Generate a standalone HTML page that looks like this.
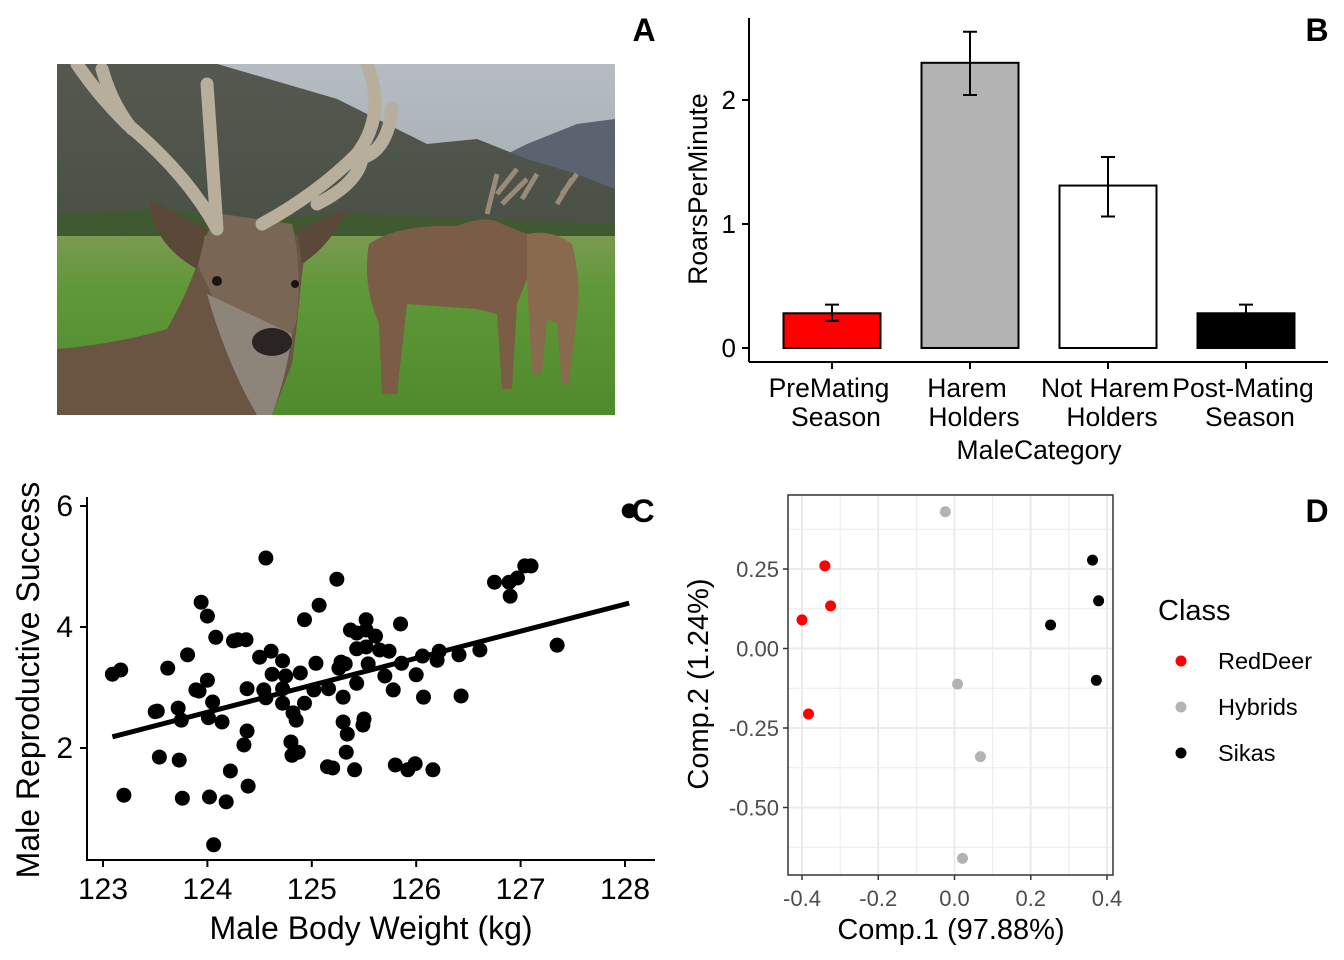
<!DOCTYPE html>
<html><head><meta charset="utf-8"><style>
html,body{margin:0;padding:0;background:#fff;}
svg{display:block;font-family:"Liberation Sans",Arial,sans-serif;}
</style></head><body>
<svg id="fig" width="1344" height="960" viewBox="0 0 1344 960" xmlns="http://www.w3.org/2000/svg">
<defs>
<linearGradient id="sky" x1="0" y1="0" x2="0" y2="1"><stop offset="0" stop-color="#b5bcc2"/><stop offset="1" stop-color="#8e969c"/></linearGradient>
<linearGradient id="grass" x1="0" y1="0" x2="0" y2="1"><stop offset="0" stop-color="#7a9a50"/><stop offset="0.3" stop-color="#5f9838"/><stop offset="1" stop-color="#4f8a2c"/></linearGradient>
<linearGradient id="mtn" x1="0" y1="0" x2="0" y2="1"><stop offset="0" stop-color="#55584f"/><stop offset="1" stop-color="#4a5046"/></linearGradient>
<clipPath id="photoClip"><rect x="0" y="0" width="558" height="351"/></clipPath>
</defs>

<g transform="translate(57,64)">
<g clip-path="url(#photoClip)">
<rect width="558" height="351" fill="url(#sky)"/>
<path d="M0,0 L160,0 L280,35 L330,60 L380,90 L430,100 L470,80 L520,60 L558,55 L558,170 L0,175 Z" fill="#5b6270"/>
<path d="M0,0 L160,0 L280,35 L330,60 L370,80 L420,75 L470,95 L520,110 L558,125 L558,175 L0,178 Z" fill="url(#mtn)"/>
<path d="M0,150 L100,145 L200,155 L300,150 L558,160 L558,180 L0,180 Z" fill="#3f5a30"/>
<rect x="0" y="172" width="558" height="179" fill="url(#grass)"/>
<path d="M312,180 Q340,160 400,162 Q430,150 445,160 L470,170 Q480,200 470,215 L460,240 L455,325 L445,325 L440,250 L420,245 L350,240 L340,330 L325,330 L322,260 Q305,220 312,180 Z" fill="#7b5d45"/>
<path d="M470,170 Q495,165 515,180 Q525,220 520,250 L512,320 L505,320 L500,260 L490,255 L485,310 L475,310 L470,215 Z" fill="#8a6a4e"/>
<path d="M430,150 L440,110 M440,130 L460,105 M445,140 L470,115 M465,135 L480,110 M500,140 L515,115 M505,130 L520,110" stroke="#9a8a78" stroke-width="5" fill="none"/>
<path d="M0,285 Q60,280 110,265 Q130,230 140,200 L150,170 L210,160 L250,175 L245,210 L240,260 L235,300 L215,351 L0,351 Z" fill="#6a5442"/>
<path d="M140,200 Q150,160 165,150 L235,160 Q245,200 240,255 Q230,290 200,300 Q180,300 175,280 Q160,240 140,200 Z" fill="#7a6654"/>
<path d="M150,230 Q170,300 200,351 L215,351 Q230,310 235,270 Z" fill="#8d8579"/>
<path d="M92,135 Q95,180 140,205 L150,165 Z" fill="#5a4838"/>
<path d="M290,145 Q275,180 245,200 L240,165 Z" fill="#5a4838"/>
<ellipse cx="215" cy="278" rx="20" ry="14" fill="#2a2524"/>
<circle cx="160" cy="217" r="5" fill="#1a1512"/><circle cx="238" cy="220" r="4" fill="#1a1512"/>
<path d="M160,165 Q130,110 70,60 Q40,30 20,0 M75,65 Q55,40 45,5 M160,165 L150,20 M205,160 Q260,130 300,90 Q330,50 310,0 M300,95 Q330,90 335,45 M260,140 Q300,120 305,95" stroke="#b8ae9c" stroke-width="13" fill="none" stroke-linecap="round"/>
</g>
</g>

<text x="644" y="41" font-size="32" font-weight="bold" text-anchor="middle">A</text>
<text x="1317" y="41" font-size="32" font-weight="bold" text-anchor="middle">B</text>
<text x="643" y="522" font-size="32" font-weight="bold" text-anchor="middle">C</text>
<text x="1317" y="522" font-size="32" font-weight="bold" text-anchor="middle">D</text>

<g id="panelB"></g>
<g id="panelC"></g>
<g id="panelD"></g>
</svg>
<script>
// ---------- Panel B data ----------
const barCats1 = ["PreMating","Harem","Not Harem","Post-Mating"];
const barCats2 = ["Season","Holders","Holders","Season"];
const barValues = [0.28, 2.30, 1.31, 0.28];
const barErrLow = [0.22, 2.04, 1.06, 0.22];
const barErrHigh = [0.35, 2.55, 1.54, 0.35];
const barColors = ["#ff0000","#b3b3b3","#ffffff","#000000"];
const barTicks = [0,1,2];

// ---------- Panel C data ----------
const weights = [123.09,123.17,123.20,123.52,123.50,123.54,123.62,123.72,123.73,123.76,123.75,123.81,123.89,123.94,124.00,124.00,124.01,123.92,124.05,124.02,124.08,124.14,124.18,124.22,124.25,124.29,124.37,124.38,124.38,124.35,124.39,124.06,124.50,124.54,124.56,124.61,124.62,124.56,124.72,124.72,124.72,124.75,124.80,124.82,124.85,124.81,124.87,124.89,124.93,124.93,125.02,125.04,125.07,125.16,125.15,125.20,125.24,125.28,125.26,125.34,125.33,125.32,125.30,125.30,125.37,125.43,125.43,125.43,125.41,125.52,125.52,125.52,125.50,125.49,125.54,125.61,125.65,125.70,125.78,125.80,125.85,125.92,125.99,126.07,126.00,126.06,126.20,126.16,126.22,125.86,125.74,126.43,126.41,126.61,126.75,126.89,126.90,126.97,127.04,127.10,127.35,128.04];
const success = [3.22,3.29,1.22,2.61,2.60,1.85,3.32,2.66,1.80,1.17,2.46,3.54,2.96,4.41,4.18,3.12,2.50,2.94,2.76,1.19,3.83,2.43,1.11,1.62,3.77,3.79,3.79,2.98,2.28,2.05,1.37,0.40,3.50,2.96,5.14,3.60,3.22,2.83,3.44,2.98,2.74,3.19,2.10,2.58,2.46,1.88,1.93,3.24,4.12,2.74,2.96,3.40,4.36,2.98,1.69,1.67,4.79,3.42,3.32,2.23,1.93,3.39,2.84,2.43,3.95,3.90,3.64,3.07,1.64,4.12,3.95,3.67,2.48,2.38,3.39,3.85,3.62,3.19,2.96,1.72,4.05,1.64,1.74,2.84,3.21,3.52,3.45,1.64,3.60,3.40,3.60,2.86,3.54,3.62,4.74,4.74,4.51,4.81,5.01,5.01,3.70,5.92];
const cXTicks = [123,124,125,126,127,128];
const cYTicks = [2,4,6];

// ---------- Panel D data ----------
const pcaClass = ["RedDeer","RedDeer","RedDeer","RedDeer","Hybrids","Hybrids","Hybrids","Hybrids","Sikas","Sikas","Sikas","Sikas"];
const comp1 = [-0.34,-0.325,-0.40,-0.383,-0.024,0.008,0.068,0.021,0.362,0.378,0.252,0.372];
const comp2 = [0.26,0.134,0.09,-0.206,0.43,-0.112,-0.34,-0.66,0.278,0.15,0.074,-0.10];
const dXTicks = [-0.4,-0.2,0.0,0.2,0.4];
const dYTicks = [-0.5,-0.25,0,0.25];
const legendClasses = ["RedDeer","Hybrids","Sikas"];
const legendColors = ["#ff0000","#b3b3b3","#000000"];

const NS="http://www.w3.org/2000/svg";
function mk(parent,tag,attrs,text){const e=document.createElementNS(NS,tag);for(const k in attrs)e.setAttribute(k,attrs[k]);if(text!==undefined)e.textContent=text;parent.appendChild(e);return e;}

// ---------- Panel B ----------
(function(){
const g=document.getElementById('panelB');
const yB=v=>348-v*124;
const xB=i=>832+i*138;
const bw=97;
mk(g,'line',{x1:749,y1:18,x2:749,y2:362,stroke:'#000','stroke-width':2});
mk(g,'line',{x1:749,y1:362,x2:1328,y2:362,stroke:'#000','stroke-width':2});
barTicks.forEach(t=>{
 const l=mk(g,'line',{x1:742,y1:yB(t),x2:749,y2:yB(t),stroke:'#000','stroke-width':2});
 
 
 const tx=mk(g,'text',{x:736,y:yB(t)+9,'font-size':26,'text-anchor':'end'},String(t));
 
 
});
barValues.forEach((v,i)=>{
 const r=mk(g,'rect',{x:xB(i)-bw/2,y:yB(v),width:bw,height:yB(0)-yB(v),fill:barColors[i],stroke:'#000','stroke-width':2});
 
 
 const e=mk(g,'path',{d:`M${xB(i)-7},${yB(barErrHigh[i])}H${xB(i)+7}M${xB(i)},${yB(barErrHigh[i])}V${yB(barErrLow[i])}M${xB(i)-7},${yB(barErrLow[i])}H${xB(i)+7}`,stroke:'#000','stroke-width':2,fill:'none'});
 
 
 const t=mk(g,'line',{x1:xB(i),y1:362,x2:xB(i),y2:369,stroke:'#000','stroke-width':2});
 
 
 const l1=mk(g,'text',{x:xB(i)-3,y:397,'font-size':26.5,'text-anchor':'middle'},barCats1[i]);
 
 
 const l2=mk(g,'text',{x:xB(i)+4,y:426,'font-size':26.5,'text-anchor':'middle'},barCats2[i]);
 
 
});
const xt=mk(g,'text',{x:1039,y:459,'font-size':26.5,'text-anchor':'middle'},'MaleCategory');


const yt=mk(g,'text',{x:0,y:0,'font-size':26.5,'text-anchor':'middle',transform:'translate(707,189) rotate(-90)'},'RoarsPerMinute');


})();

// ---------- Panel C ----------
(function(){
const g=document.getElementById('panelC');
const xC=v=>103+(v-123)*104.4;
const yC=v=>869-v*60.5;
mk(g,'line',{x1:87,y1:497,x2:87,y2:861,stroke:'#000','stroke-width':2});
mk(g,'line',{x1:86,y1:860,x2:655,y2:860,stroke:'#000','stroke-width':2});
cYTicks.forEach(t=>{
 const l=mk(g,'line',{x1:80,y1:yC(t),x2:87,y2:yC(t),stroke:'#000','stroke-width':2});
 
 
 const tx=mk(g,'text',{x:73,y:yC(t)+10,'font-size':30,'text-anchor':'end'},String(t));
 
 
});
cXTicks.forEach(t=>{
 const l=mk(g,'line',{x1:xC(t),y1:860,x2:xC(t),y2:867,stroke:'#000','stroke-width':2});
 
 
 const tx=mk(g,'text',{x:xC(t),y:899,'font-size':30,'text-anchor':'middle'},String(t));
 
 
});
const n=weights.length;let mx=0,my=0;for(let i=0;i<n;i++){mx+=weights[i];my+=success[i];}mx/=n;my/=n;
let sxy=0,sxx=0;for(let i=0;i<n;i++){sxy+=(weights[i]-mx)*(success[i]-my);sxx+=(weights[i]-mx)**2;}
const b=sxy/sxx,a=my-b*mx;
const x0=Math.min(...weights),x1=Math.max(...weights);
weights.forEach((w,i)=>{
 const c=mk(g,'circle',{cx:xC(w),cy:yC(success[i]),r:7.5,fill:'#000'});
 
 
});
const rl=mk(g,'line',{x1:xC(x0),y1:yC(a+b*x0),x2:xC(x1),y2:yC(a+b*x1),stroke:'#000','stroke-width':5});


const xt=mk(g,'text',{x:371,y:939,'font-size':32,'text-anchor':'middle'},'Male Body Weight (kg)');


const yt=mk(g,'text',{x:0,y:0,'font-size':32,'text-anchor':'middle',transform:'translate(39,680) rotate(-90)'},'Male Reproductive Success');


})();

// ---------- Panel D ----------
(function(){
const g=document.getElementById('panelD');
const xD=v=>954.5+v*381.25;
const yD=v=>648.5-v*318;
const L=788,R=1113,T=495,B=875;
mk(g,'rect',{x:L,y:T,width:R-L,height:B-T,fill:'#fff'});
[-0.3,-0.1,0.1,0.3].forEach(v=>mk(g,'line',{x1:xD(v),y1:T,x2:xD(v),y2:B,stroke:'#ebebeb','stroke-width':1}));
[-0.625,-0.375,-0.125,0.125,0.375].forEach(v=>mk(g,'line',{x1:L,y1:yD(v),x2:R,y2:yD(v),stroke:'#ebebeb','stroke-width':1}));
dXTicks.forEach(t=>{
 mk(g,'line',{x1:xD(t),y1:T,x2:xD(t),y2:B,stroke:'#ebebeb','stroke-width':2});
 const l=mk(g,'line',{x1:xD(t),y1:B,x2:xD(t),y2:B+5,stroke:'#333','stroke-width':1.5});
 
 
 const tx=mk(g,'text',{x:xD(t),y:906,'font-size':22,fill:'#4d4d4d','text-anchor':'middle'},t.toFixed(1));
 
 
});
dYTicks.forEach(t=>{
 mk(g,'line',{x1:L,y1:yD(t),x2:R,y2:yD(t),stroke:'#ebebeb','stroke-width':2});
 const l=mk(g,'line',{x1:L-5,y1:yD(t),x2:L,y2:yD(t),stroke:'#333','stroke-width':1.5});
 
 
 const tx=mk(g,'text',{x:L-9,y:yD(t)+8,'font-size':22,fill:'#4d4d4d','text-anchor':'end'},t.toFixed(2));
 
 
});
mk(g,'rect',{x:L,y:T,width:R-L,height:B-T,fill:'none',stroke:'#333','stroke-width':1.5});
comp1.forEach((v,i)=>{
 const c=mk(g,'circle',{cx:xD(v),cy:yD(comp2[i]),r:5.5,fill:legendColors[legendClasses.indexOf(pcaClass[i])]});
 
 
});
const xt=mk(g,'text',{x:951,y:939,'font-size':29,'text-anchor':'middle'},'Comp.1 (97.88%)');


const yt=mk(g,'text',{x:0,y:0,'font-size':29,'text-anchor':'middle',transform:'translate(708,684) rotate(-90)'},'Comp.2 (1.24%)');


const lt=mk(g,'text',{x:1158,y:620,'font-size':29},'Class');


legendClasses.forEach((c,i)=>{
 const y=661+i*46;
 const d=mk(g,'circle',{cx:1181,cy:y,r:5.5,fill:legendColors[i]});
 
 
 const t=mk(g,'text',{x:1218,y:y+8,'font-size':23.5},c);
 
 
});
})();
</script>
</body></html>
